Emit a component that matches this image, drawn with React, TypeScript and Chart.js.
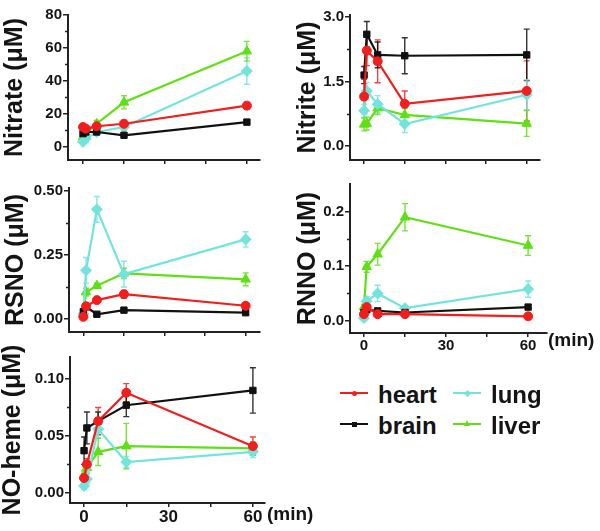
import React, { useEffect, useRef } from "react";
import { Chart, registerables } from "chart.js";

Chart.register(...registerables);

// ---------- data ----------
const TIME = [0, 1, 5, 15, 60];
const X_TICKS = [0, 15, 30, 45, 60];

const NITRATE_HEART = [12, 11, 12.5, 14, 25];
const NITRATE_BRAIN = [8, 9, 9, 7, 15];
const NITRATE_LUNG = [3, 5, 9, 12, 46];
const NITRATE_LIVER = [6, 8, 14, 27, 58];
const NITRATE_HEART_ERR = [2, 2, 1.5, 2, 2];
const NITRATE_BRAIN_ERR = [1, 1, 1, 1, 1.5];
const NITRATE_LUNG_ERR = [1.5, 2, 2, 2, 8];
const NITRATE_LIVER_ERR = [1.5, 2, 2, 4, 6];

const NITRITE_HEART = [1.15, 2.22, 1.97, 0.98, 1.28];
const NITRITE_BRAIN = [1.65, 2.6, 2.12, 2.1, 2.12];
const NITRITE_LUNG = [0.82, 1.28, 0.97, 0.51, 1.19];
const NITRITE_LIVER = [0.5, 0.52, 0.88, 0.72, 0.52];
const NITRITE_HEART_ERR = [0.4, 0.35, 0.5, 0.3, 0.7];
const NITRITE_BRAIN_ERR = [0.2, 0.3, 0.3, 0.42, 0.6];
const NITRITE_LUNG_ERR = [0.15, 0.2, 0.2, 0.2, 0.35];
const NITRITE_LIVER_ERR = [0.15, 0.15, 0.15, 0.15, 0.3];

const RSNO_HEART = [0.009, 0.05, 0.074, 0.097, 0.052];
const RSNO_BRAIN = [0.029, 0.048, 0.019, 0.035, 0.025];
const RSNO_LUNG = [0.02, 0.19, 0.427, 0.175, 0.31];
const RSNO_LIVER = [0.02, 0.105, 0.13, 0.178, 0.155];
const RSNO_HEART_ERR = [0.01, 0.01, 0.01, 0.015, 0.01];
const RSNO_BRAIN_ERR = [0.005, 0.005, 0.005, 0.005, 0.005];
const RSNO_LUNG_ERR = [0.01, 0.05, 0.05, 0.05, 0.03];
const RSNO_LIVER_ERR = [0.01, 0.015, 0.01, 0.02, 0.025];

const RNNO_HEART = [0.012, 0.025, 0.012, 0.012, 0.008];
const RNNO_BRAIN = [0.015, 0.02, 0.018, 0.015, 0.025];
const RNNO_LUNG = [0.005, 0.036, 0.05, 0.023, 0.058];
const RNNO_LIVER = [0.025, 0.099, 0.122, 0.19, 0.138];
const RNNO_HEART_ERR = [0.004, 0.004, 0.004, 0.004, 0.004];
const RNNO_BRAIN_ERR = [0.004, 0.004, 0.004, 0.004, 0.004];
const RNNO_LUNG_ERR = [0.004, 0.008, 0.015, 0.005, 0.015];
const RNNO_LIVER_ERR = [0.005, 0.01, 0.02, 0.025, 0.018];

const HEME_HEART = [0.013, 0.025, 0.063, 0.088, 0.041];
const HEME_BRAIN = [0.037, 0.057, 0.063, 0.077, 0.09];
const HEME_LUNG = [0.006, 0.012, 0.056, 0.027, 0.036];
const HEME_LIVER = [0.015, 0.022, 0.036, 0.041, 0.039];
const HEME_HEART_ERR = [0.004, 0.005, 0.012, 0.008, 0.008];
const HEME_BRAIN_ERR = [0.012, 0.014, 0.008, 0.01, 0.02];
const HEME_LUNG_ERR = [0.003, 0.004, 0.008, 0.005, 0.005];
const HEME_LIVER_ERR = [0.004, 0.005, 0.012, 0.02, 0.006];

const SERIES_NAMES = ["heart", "brain", "lung", "liver"];
const SERIES_COLORS = ["#f21d1d", "#111111", "#72e4dc", "#5ee014"];
const SERIES_STYLES = ["circle", "rect", "rectRot", "triangle"];
const SERIES_RADII = [4.5, 4.5, 5.5, 5.5];

const FONT = "'Liberation Sans', Arial, Helvetica, sans-serif";
const AXIS = "#222222";
const TEXT = "#141414";

type Panel = {
  title: string;
  left: number; top: number; width: number; height: number;
  aL: number; aT: number; aR: number; aB: number;
  xMin: number; xMax: number; yMin: number; yMax: number;
  yTicks: number[]; yMinor: number[]; yDec: number;
  showX: boolean; xFont: number;
  values: number[][]; errors: number[][];
};

const PANELS: Panel[] = [
  {
    title: "Nitrate (μM)", left: 0, top: 0, width: 275, height: 175,
    aL: 68, aT: 15, aR: 260, aB: 160,
    xMin: -5.5, xMax: 64.8, yMin: -8, yMax: 80,
    yTicks: [0, 20, 40, 60, 80], yMinor: [10, 30, 50, 70], yDec: 0,
    showX: false, xFont: 15,
    values: [NITRATE_HEART, NITRATE_BRAIN, NITRATE_LUNG, NITRATE_LIVER],
    errors: [NITRATE_HEART_ERR, NITRATE_BRAIN_ERR, NITRATE_LUNG_ERR, NITRATE_LIVER_ERR],
  },
  {
    title: "Nitrite (μM)", left: 293, top: 0, width: 300, height: 175,
    aL: 350, aT: 15, aR: 540, aB: 160,
    xMin: -5.2, xMax: 64.9, yMin: -0.33, yMax: 3.05,
    yTicks: [0, 1.5, 3.0], yMinor: [0.75, 2.25], yDec: 1,
    showX: false, xFont: 15,
    values: [NITRITE_HEART, NITRITE_BRAIN, NITRITE_LUNG, NITRITE_LIVER],
    errors: [NITRITE_HEART_ERR, NITRITE_BRAIN_ERR, NITRITE_LUNG_ERR, NITRITE_LIVER_ERR],
  },
  {
    title: "RSNO (μM)", left: 1, top: 172, width: 275, height: 175,
    aL: 69, aT: 188, aR: 260, aB: 332,
    xMin: -5.3, xMax: 65.3, yMin: -0.05, yMax: 0.51,
    yTicks: [0, 0.25, 0.5], yMinor: [0.125, 0.375], yDec: 2,
    showX: false, xFont: 15,
    values: [RSNO_HEART, RSNO_BRAIN, RSNO_LUNG, RSNO_LIVER],
    errors: [RSNO_HEART_ERR, RSNO_BRAIN_ERR, RSNO_LUNG_ERR, RSNO_LIVER_ERR],
  },
  {
    title: "RNNO (μM)", left: 293, top: 172, width: 300, height: 185,
    aL: 350, aT: 184, aR: 547, aB: 333,
    xMin: -5.1, xMax: 66.9, yMin: -0.0226, yMax: 0.251,
    yTicks: [0, 0.1, 0.2], yMinor: [0.05, 0.15], yDec: 1,
    showX: true, xFont: 15,
    values: [RNNO_HEART, RNNO_BRAIN, RNNO_LUNG, RNNO_LIVER],
    errors: [RNNO_HEART_ERR, RNNO_BRAIN_ERR, RNNO_LUNG_ERR, RNNO_LIVER_ERR],
  },
  {
    title: "NO-heme (μM)", left: -2, top: 345, width: 280, height: 186,
    aL: 70, aT: 357, aR: 265, aB: 503,
    xMin: -5, xMax: 64.3, yMin: -0.009, yMax: 0.1194,
    yTicks: [0, 0.05, 0.1], yMinor: [0.025, 0.075], yDec: 2,
    showX: true, xFont: 17,
    values: [HEME_HEART, HEME_BRAIN, HEME_LUNG, HEME_LIVER],
    errors: [HEME_HEART_ERR, HEME_BRAIN_ERR, HEME_LUNG_ERR, HEME_LIVER_ERR],
  },
];

// ---------- plugins ----------
const errorBarPlugin = {
  id: "errorBars",
  beforeDatasetsDraw(chart: any) {
    const ctx = chart.ctx;
    const xs = chart.scales.x;
    const ys = chart.scales.y;
    chart.data.datasets.forEach((ds: any) => {
      const errs: number[] = ds.errorBars || [];
      ctx.save();
      ctx.strokeStyle = ds.borderColor;
      ctx.globalAlpha = 0.85;
      ctx.lineWidth = 1.4;
      ds.data.forEach((pt: any, j: number) => {
        const e = errs[j] || 0;
        const x = xs.getPixelForValue(pt.x);
        const y1 = ys.getPixelForValue(pt.y + e);
        const y2 = ys.getPixelForValue(pt.y - e);
        ctx.beginPath();
        ctx.moveTo(x, y1); ctx.lineTo(x, y2);
        ctx.moveTo(x - 3, y1); ctx.lineTo(x + 3, y1);
        ctx.moveTo(x - 3, y2); ctx.lineTo(x + 3, y2);
        ctx.stroke();
      });
      ctx.restore();
    });
  },
};

const minorTickPlugin = {
  id: "minorTicks",
  afterDraw(chart: any, _args: any, opts: any) {
    const ys = chart.scales.y;
    const vals: number[] = (opts && opts.values) || [];
    const ctx = chart.ctx;
    ctx.save();
    ctx.strokeStyle = AXIS;
    ctx.lineWidth = 1.5;
    vals.forEach((v) => {
      const y = Math.round(ys.getPixelForValue(v)) + 0.5;
      ctx.beginPath();
      ctx.moveTo(ys.right - 3, y);
      ctx.lineTo(ys.right, y);
      ctx.stroke();
    });
    ctx.restore();
  },
};

function makeConfig(p: Panel): any {
  const datasets = SERIES_NAMES.map((name, i) => ({
    label: name,
    data: TIME.map((t, j) => ({ x: t, y: p.values[i][j] })),
    errorBars: p.errors[i],
    borderColor: SERIES_COLORS[i],
    backgroundColor: SERIES_COLORS[i],
    pointStyle: SERIES_STYLES[i],
    pointRadius: SERIES_RADII[i],
    pointBorderWidth: 1,
    borderWidth: 2.2,
    tension: 0,
    clip: false,
  }));
  const xFit = p.top + p.height - p.aB;
  const yFit = p.aL - p.left;
  return {
    type: "line",
    data: { datasets },
    plugins: [errorBarPlugin, minorTickPlugin],
    options: {
      animation: false,
      responsive: false,
      maintainAspectRatio: false,
      layout: {
        padding: { left: 0, bottom: 0, top: p.aT - p.top, right: p.left + p.width - p.aR },
      },
      plugins: {
        legend: { display: false },
        tooltip: { enabled: false },
        minorTicks: { values: p.yMinor },
      },
      scales: {
        x: {
          type: "linear",
          min: p.xMin,
          max: p.xMax,
          afterBuildTicks: (s: any) => {
            s.ticks = X_TICKS.map((v) => ({ value: v }));
          },
          afterFit: (s: any) => {
            s.height = xFit;
          },
          grid: { drawOnChartArea: false, drawTicks: true, tickLength: 4, color: AXIS, lineWidth: 1.5 },
          border: { display: true, color: AXIS, width: 2 },
          ticks: {
            display: p.showX,
            autoSkip: false,
            maxRotation: 0,
            padding: 0,
            color: TEXT,
            font: { family: FONT, size: p.xFont, weight: "bold" },
            callback: (v: any) => (Number(v) % 30 === 0 ? String(v) : ""),
          },
        },
        y: {
          type: "linear",
          min: p.yMin,
          max: p.yMax,
          afterBuildTicks: (s: any) => {
            s.ticks = p.yTicks.map((v) => ({ value: v }));
          },
          afterFit: (s: any) => {
            s.width = yFit;
          },
          grid: { drawOnChartArea: false, drawTicks: true, tickLength: 5, color: AXIS, lineWidth: 1.5 },
          border: { display: true, color: AXIS, width: 2 },
          ticks: {
            autoSkip: false,
            padding: 1,
            color: TEXT,
            font: { family: FONT, size: 15, weight: "bold" },
            callback: (v: any) => Number(v).toFixed(p.yDec),
          },
          title: {
            display: true,
            text: p.title,
            color: TEXT,
            padding: { top: 0, bottom: 0 },
            font: { family: FONT, size: 25, weight: "bold", lineHeight: 1.2 },
          },
        },
      },
    },
  };
}

function PanelChart({ p }: { p: Panel }) {
  const ref = useRef<HTMLCanvasElement | null>(null);
  useEffect(() => {
    if (!ref.current) return;
    const chart = new Chart(ref.current, makeConfig(p));
    return () => chart.destroy();
  }, [p]);
  return (
    <canvas
      ref={ref}
      width={p.width}
      height={p.height}
      style={{ position: "absolute", left: p.left, top: p.top, width: p.width, height: p.height }}
    />
  );
}

function Marker({ style, color }: { style: string; color: string }) {
  if (style === "triangle") {
    return (
      <div
        style={{
          position: "absolute", left: -3.5, top: -4, width: 0, height: 0,
          borderLeft: "3.5px solid transparent", borderRight: "3.5px solid transparent",
          borderBottom: `6px solid ${color}`,
        }}
      />
    );
  }
  return (
    <div
      style={{
        position: "absolute", left: -2.5, top: -2.5, width: 5, height: 5, background: color,
        borderRadius: style === "circle" ? "50%" : 0,
        transform: style === "rectRot" ? "rotate(45deg)" : undefined,
      }}
    />
  );
}

const LEGEND_POS = [
  { x: 340, y: 393 },
  { x: 340, y: 424 },
  { x: 453, y: 393 },
  { x: 453, y: 424 },
];

export default function App() {
  return (
    <div style={{ position: "absolute", left: 0, top: 0, width: 600, height: 531, background: "#ffffff", overflow: "hidden" }}>
      {PANELS.map((p, i) => (
        <PanelChart key={i} p={p} />
      ))}
      <div style={{ position: "absolute", left: 548, top: 329, font: `bold 19px ${FONT}`, lineHeight: "22px", color: TEXT }}>(min)</div>
      <div style={{ position: "absolute", left: 267, top: 503, font: `bold 19px ${FONT}`, lineHeight: "22px", color: TEXT }}>(min)</div>
      {SERIES_NAMES.map((name, i) => {
        const pos = LEGEND_POS[i];
        return (
          <React.Fragment key={name}>
            <div style={{ position: "absolute", left: pos.x, top: pos.y - 1.25, width: 28, height: 2.5, background: SERIES_COLORS[i] }} />
            <div style={{ position: "absolute", left: pos.x + 14, top: pos.y }}>
              <Marker style={SERIES_STYLES[i]} color={SERIES_COLORS[i]} />
            </div>
            <div
              style={{
                position: "absolute", left: pos.x + 38, top: pos.y - 12.5,
                font: `bold 24px ${FONT}`, lineHeight: "28px", color: TEXT, whiteSpace: "nowrap",
              }}
            >
              {name}
            </div>
          </React.Fragment>
        );
      })}
    </div>
  );
}
